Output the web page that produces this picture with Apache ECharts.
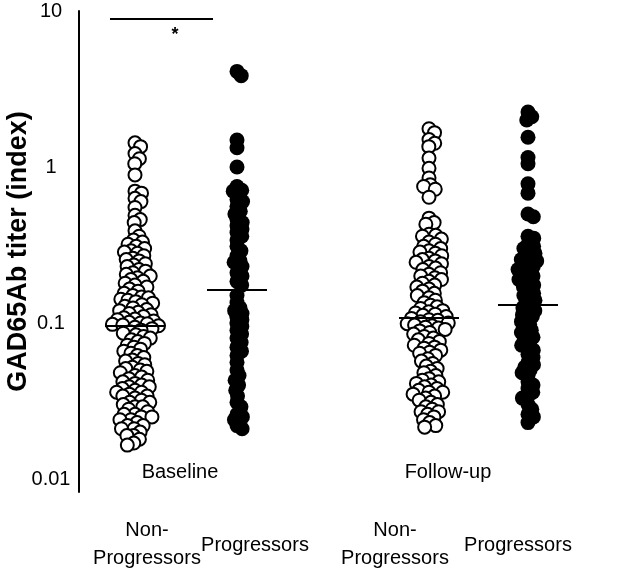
<!DOCTYPE html>
<html><head><meta charset="utf-8">
<script src="https://cdn.jsdelivr.net/npm/echarts@6/dist/echarts.min.js"></script>
<style>html,body{margin:0;padding:0;background:#fff}#c{width:626px;height:579px}</style>
</head><body><div id="c"></div>
<script>
// ---- data ----
const timeLabels = ['Baseline', 'Follow-up'];
const groupLabels = ['Non-\nProgressors', 'Progressors', 'Non-\nProgressors', 'Progressors'];
const groupX = [0.56, 1.58, 3.50, 4.49];
const yTickLabels = [0.01, 0.1, 1, 10];

const baselineNonProgressors = [1.43, 1.35, 1.22, 1.13, 1.05, 0.89,
  0.70, 0.68, 0.63, 0.60, 0.55, 0.49, 0.46, 0.44,
  0.39, 0.36, 0.34, 0.33,
  0.32, 0.31, 0.30, 0.29, 0.285, 0.28, 0.27, 0.26, 0.255, 0.25, 0.24, 0.235, 0.23, 0.22,
  0.215, 0.21, 0.205, 0.20, 0.195, 0.19, 0.185, 0.18, 0.175, 0.17, 0.165, 0.16, 0.155, 0.15, 0.147, 0.145, 0.142,
  0.14, 0.137, 0.134, 0.131, 0.128, 0.125, 0.122, 0.12, 0.117, 0.115, 0.113, 0.11, 0.108, 0.106, 0.105, 0.103, 0.101, 0.10, 0.099, 0.098, 0.097,
  0.096, 0.094, 0.092, 0.09, 0.088, 0.086, 0.084, 0.082, 0.08, 0.078, 0.076, 0.074, 0.072, 0.07, 0.068, 0.066, 0.064, 0.062, 0.06, 0.058,
  0.057, 0.055, 0.054, 0.052, 0.051, 0.05, 0.049, 0.048, 0.046, 0.045, 0.044, 0.043,
  0.042, 0.041, 0.04, 0.039, 0.039, 0.038, 0.037, 0.036, 0.036, 0.035, 0.034, 0.034, 0.033, 0.032, 0.031, 0.031, 0.03, 0.029, 0.029, 0.028,
  0.027, 0.026, 0.026, 0.025, 0.025, 0.024, 0.024, 0.023, 0.022, 0.022, 0.021, 0.021,
  0.02, 0.019, 0.019, 0.018, 0.017, 0.0165];

const baselineProgressors = [4.1, 3.85, 1.49, 1.33, 1.0, 0.75, 0.71, 0.70, 0.62, 0.60,
  0.56, 0.52, 0.50, 0.46, 0.44, 0.42, 0.40, 0.38, 0.36, 0.34, 0.31, 0.29, 0.27, 0.25, 0.245, 0.23, 0.21, 0.20, 0.185, 0.175,
  0.15, 0.135, 0.125, 0.12, 0.115, 0.11, 0.105, 0.10, 0.095, 0.09, 0.085, 0.08, 0.075, 0.07, 0.066, 0.062, 0.056, 0.05, 0.046, 0.043,
  0.04, 0.037, 0.034, 0.031, 0.029, 0.026, 0.025, 0.024, 0.022, 0.021];

const followupNonProgressors = [1.76, 1.66, 1.5, 1.42, 1.35, 1.14, 0.98, 0.85, 0.77, 0.75, 0.72, 0.64,
  0.47, 0.44, 0.43, 0.37, 0.365, 0.36, 0.345, 0.33, 0.32,
  0.31, 0.30, 0.29, 0.285, 0.28, 0.27, 0.26, 0.255, 0.25, 0.245, 0.24, 0.23, 0.225, 0.22, 0.21, 0.205, 0.20, 0.195, 0.19, 0.185,
  0.18, 0.175, 0.17, 0.165, 0.16, 0.155, 0.15, 0.145, 0.14, 0.135, 0.13, 0.127, 0.124, 0.12, 0.118, 0.116, 0.114, 0.112, 0.11,
  0.107, 0.105, 0.104, 0.102, 0.10, 0.099, 0.097, 0.096, 0.094, 0.093, 0.091, 0.089, 0.087, 0.085,
  0.082, 0.08, 0.078, 0.076, 0.074, 0.072, 0.07, 0.069, 0.067, 0.065, 0.064, 0.062,
  0.059, 0.057, 0.055, 0.053, 0.051, 0.049, 0.048, 0.046,
  0.044, 0.043, 0.042, 0.041, 0.04, 0.039, 0.038, 0.037, 0.036, 0.036, 0.035, 0.034,
  0.033, 0.032, 0.031, 0.03, 0.029, 0.028, 0.027, 0.027, 0.026, 0.025, 0.024,
  0.023, 0.022, 0.0215];

const followupProgressors = [2.25, 2.1, 2.0, 1.55, 1.15, 1.05, 0.78, 0.68, 0.5, 0.48, 0.36, 0.35, 0.32,
  0.31, 0.30, 0.29, 0.28, 0.27, 0.26, 0.255, 0.25, 0.24, 0.23, 0.225, 0.22, 0.21, 0.20, 0.195, 0.19, 0.18, 0.175, 0.17, 0.16, 0.155, 0.15, 0.145, 0.14, 0.135,
  0.128, 0.125, 0.12, 0.117, 0.113, 0.11, 0.106, 0.102, 0.098,
  0.094, 0.09, 0.087, 0.084, 0.081, 0.078, 0.075, 0.072, 0.069, 0.067,
  0.063, 0.06,
  0.056, 0.054, 0.052, 0.05, 0.048, 0.046,
  0.042, 0.04, 0.038, 0.036, 0.034, 0.033,
  0.03, 0.028, 0.026, 0.025, 0.023];

const groups = [baselineNonProgressors, baselineProgressors, followupNonProgressors, followupProgressors];
const filled = [false, true, false, true];

// ---- helpers ----
function median(arr) {
  const s = arr.slice().sort((a, b) => a - b);
  const n = s.length;
  return n % 2 ? s[(n - 1) / 2] : (s[n / 2 - 1] + s[n / 2]) / 2;
}
function swarm(pys, d) {
  const idx = pys.map((y, i) => i).sort((a, b) => pys[a] - pys[b]);
  const placed = [];
  const offs = new Array(pys.length);
  for (const i of idx) {
    const y = pys[i];
    const cands = [0];
    for (const p of placed) {
      const dy = y - p.y;
      if (Math.abs(dy) < d) {
        const dx = Math.sqrt(d * d - dy * dy);
        cands.push(p.x + dx, p.x - dx);
      }
    }
    cands.sort((a, b) => Math.abs(a) - Math.abs(b));
    let best = 0;
    for (const c of cands) {
      let ok = true;
      for (const p of placed) {
        const dx = c - p.x, dy = y - p.y;
        if (dx * dx + dy * dy < d * d - 1e-6) { ok = false; break; }
      }
      if (ok) { best = c; break; }
    }
    offs[i] = best;
    placed.push({ x: best, y: y });
  }
  return offs;
}

const FONT = '"Liberation Sans", Arial, Helvetica, sans-serif';
const chart = echarts.init(document.getElementById('c'), null, { renderer: 'canvas' });

const medians = groups.map(median);
const halfW = 0.3;

function buildSeries(points) {
  const series = groups.map((g, i) => ({
    type: 'scatter',
    data: points[i],
    symbol: 'circle',
    symbolSize: filled[i] ? 15 : 13,
    itemStyle: filled[i]
      ? { color: '#000', borderColor: '#000', borderWidth: 0, opacity: 1 }
      : { color: '#fff', borderColor: '#000', borderWidth: 2, opacity: 1 },
    silent: true,
    animation: false,
    z: 2
  }));
  series.push({
    type: 'scatter',
    data: [],
    silent: true,
    animation: false,
    z: 5,
    markLine: {
      silent: true,
      symbol: 'none',
      animation: false,
      label: { show: false },
      lineStyle: { color: '#000', width: 2, type: 'solid' },
      data: medians.map((m, i) => [
        { coord: [groupX[i] - halfW, m] },
        { coord: [groupX[i] + halfW, m] }
      ])
    }
  });
  return series;
}

const option = {
  backgroundColor: '#fff',
  animation: false,
  grid: { left: 79, top: 11, width: 547, height: 481, containLabel: false, outerBoundsMode: 'none' },
  xAxis: { type: 'value', min: 0, max: 5.47, show: false },
  yAxis: {
    type: 'log',
    logBase: 10,
    min: Math.pow(10, -2.0833),
    max: 10,
    axisLine: { show: true, lineStyle: { color: '#000', width: 2 } },
    axisTick: { show: false },
    splitLine: { show: false },
    axisLabel: {
      customValues: yTickLabels,
      formatter: v => String(+(+v).toPrecision(3)),
      align: 'center',
      margin: 28,
      fontSize: 20,
      color: '#000',
      fontFamily: FONT
    },
    name: 'GAD65Ab titer (index)',
    nameLocation: 'middle',
    nameRotate: 90,
    nameGap: 47,
    nameMoveOverlap: false,
    nameTextStyle: { fontSize: 27, fontWeight: 'bold', color: '#000', fontFamily: FONT }
  },
  graphic: [
    { type: 'line', shape: { x1: 110, y1: 19, x2: 213, y2: 19 }, style: { stroke: '#000', lineWidth: 2 } },
    { type: 'text', x: 175, y: 35, style: { text: '*', fontSize: 18, fontWeight: 'bold', fill: '#000', align: 'center', verticalAlign: 'middle', fontFamily: FONT } },
    { type: 'text', x: 180, y: 472, style: { text: timeLabels[0], fontSize: 20, fill: '#000', align: 'center', verticalAlign: 'middle', fontFamily: FONT } },
    { type: 'text', x: 448, y: 472, style: { text: timeLabels[1], fontSize: 20, fill: '#000', align: 'center', verticalAlign: 'middle', fontFamily: FONT } },
    { type: 'text', x: 147, y: 544, style: { text: groupLabels[0], fontSize: 20, lineHeight: 28, fill: '#000', align: 'center', verticalAlign: 'middle', fontFamily: FONT } },
    { type: 'text', x: 255, y: 545, style: { text: groupLabels[1], fontSize: 20, fill: '#000', align: 'center', verticalAlign: 'middle', fontFamily: FONT } },
    { type: 'text', x: 395, y: 544, style: { text: groupLabels[2], fontSize: 20, lineHeight: 28, fill: '#000', align: 'center', verticalAlign: 'middle', fontFamily: FONT } },
    { type: 'text', x: 518, y: 545, style: { text: groupLabels[3], fontSize: 20, fill: '#000', align: 'center', verticalAlign: 'middle', fontFamily: FONT } }
  ],
  series: buildSeries(groups.map((g, i) => g.map(v => [groupX[i], v])))
};
chart.setOption(option);

// beeswarm layout in pixel space using the chart's own scales
const D = [6.8, 6.0, 6.8, 6.0];
const points = groups.map((g, i) => {
  const pys = g.map(v => chart.convertToPixel({ yAxisIndex: 0 }, v));
  const offs = swarm(pys, D[i]);
  const cx = chart.convertToPixel({ xAxisIndex: 0 }, groupX[i]);
  return g.map((v, k) => [chart.convertFromPixel({ xAxisIndex: 0 }, cx + offs[k]), v]);
});
chart.setOption({ series: buildSeries(points) });
</script>
</body></html>
